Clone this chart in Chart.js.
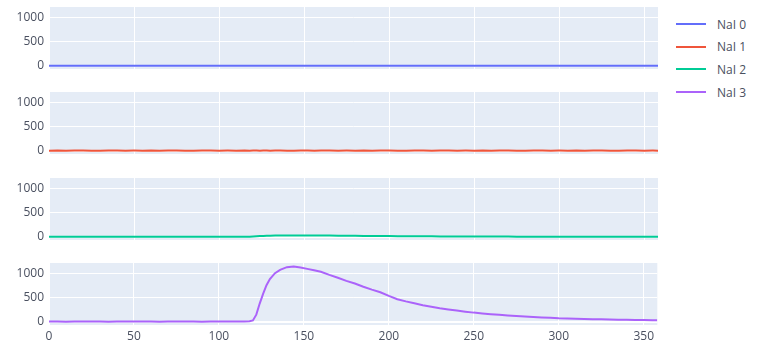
<!DOCTYPE html>
<html>
<head>
<meta charset="utf-8">
<script src="https://cdn.jsdelivr.net/npm/chart.js@4.4.1/dist/chart.umd.min.js"></script>
<style>
  body { margin: 0; background: #fff; }
  #wrap { position: relative; width: 761px; height: 343px; }
  #wrap canvas { position: absolute; left: 0; }
  #legend { position: absolute; left: 676px; top: 13px; font: 12px "Open Sans", sans-serif; color: #4a5060; }
  .item { height: 22.6px; display: flex; align-items: center; }
  .swatch { width: 30px; height: 2px; margin-right: 11px; }
</style>
</head>
<body>
<div id="wrap">
  <canvas id="p0"></canvas>
  <canvas id="p1"></canvas>
  <canvas id="p2"></canvas>
  <canvas id="p3"></canvas>
  <div id="legend"></div>
</div>
<script>
// time axis (s), shared by all four detectors
const times = [
  0, 5, 10, 15, 20, 25, 30, 35, 40, 45, 50, 55, 60, 65, 70, 75, 80, 85, 90, 95, 100, 105, 110, 115,
  118, 120, 122, 124, 126, 128, 130, 133, 136, 140, 144, 148, 152, 156, 160,
  165, 170, 175, 180, 185, 190, 195, 200, 205, 210, 215, 220, 225, 230, 235, 240, 245, 250,
  255, 260, 265, 270, 275, 280, 285, 290, 295, 300, 305, 310, 315, 320, 325, 330, 335, 340, 345, 350, 355,
  358
];

const nai0 = [
  2, 3, 1, 2, 3, 2, 1, 2, 3, 2, 2, 1, 3, 2, 2, 3, 1, 2, 2, 3, 2, 1, 2, 3,
  2, 2, 3, 2, 1, 2, 3, 2, 2, 3, 2, 1, 2, 2, 3,
  2, 1, 2, 3, 2, 2, 1, 2, 3, 2, 2, 1, 2, 3, 2, 2, 3, 1,
  2, 2, 3, 2, 1, 2, 3, 2, 2, 1, 2, 3, 2, 2, 1, 2, 3, 2, 2, 1, 2,
  2
];

const nai1 = [
  5, 7, 4, 6, 8, 5, 4, 6, 7, 5, 6, 4, 7, 5, 6, 8, 5, 4, 6, 7, 5, 6, 4, 7,
  5, 6, 7, 5, 6, 8, 5, 6, 7, 5, 4, 6, 7, 5, 6,
  8, 5, 6, 4, 7, 5, 6, 7, 5, 4, 6, 8, 5, 6, 7, 4, 6, 5,
  7, 5, 6, 8, 5, 4, 6, 7, 5, 6, 4, 7, 5, 6, 8, 5, 4, 7, 6, 5, 6,
  5
];

const nai2 = [
  3, 2, 4, 3, 2, 3, 4, 2, 3, 3, 2, 4, 3, 2, 3, 4, 3, 2, 3, 4, 3, 2, 3, 4,
  5, 8, 12, 16, 20, 23, 25, 27, 28, 29, 30, 30, 29, 28, 27,
  26, 25, 23, 22, 20, 19, 17, 16, 15, 14, 13, 12, 11, 10, 10, 9, 8, 8,
  7, 7, 6, 6, 5, 5, 5, 4, 4, 4, 4, 3, 3, 3, 3, 3, 2, 3, 2, 3, 2,
  2
];

const nai3 = [
  6, 8, 5, 7, 9, 6, 7, 5, 8, 6, 7, 9, 6, 5, 8, 7, 6, 8, 5, 7, 9, 6, 7, 8,
  12, 30, 150, 380, 580, 760, 890, 1010, 1080, 1135, 1150, 1130, 1100, 1070, 1040,
  975, 915, 850, 795, 730, 670, 615, 540, 470, 425, 385, 345, 312, 282, 258, 235, 212, 192,
  176, 160, 146, 132, 121, 111, 101, 93, 84, 74, 68, 63, 59, 55, 52, 48, 45, 42, 40, 37, 35,
  33
];

const names = ['NaI 0', 'NaI 1', 'NaI 2', 'NaI 3'];
const colors = ['#636efa', '#EF553B', '#00cc96', '#ab63fa'];
const series = [nai0, nai1, nai2, nai3];

const xTicks = [0, 50, 100, 150, 200, 250, 300, 350];
const yTicks = [0, 500, 1000];

// panel geometry
const panelTops = [7, 92, 178, 263];
const panelHeight = 62;
const padTop = 14;
const yAxisWidth = 49;
const plotRight = 658;
const textColor = '#4a5060';

// plotly-ish background behind each plot area
const bgPlugin = {
  id: 'plotBg',
  beforeDraw(chart) {
    const a = chart.chartArea;
    const ctx = chart.ctx;
    ctx.save();
    ctx.fillStyle = '#E5ECF6';
    ctx.fillRect(a.left, a.top, a.right - a.left, a.bottom - a.top);
    ctx.restore();
  }
};

function makePanel(i) {
  const last = i === series.length - 1;
  const xAxisHeight = last ? 22 : 0;
  const canvas = document.getElementById('p' + i);
  canvas.width = plotRight;
  canvas.height = padTop + panelHeight + (last ? xAxisHeight : 14);
  canvas.style.top = (panelTops[i] - padTop) + 'px';

  const points = times.map((t, k) => ({ x: t, y: series[i][k] }));

  new Chart(canvas.getContext('2d'), {
    type: 'line',
    data: {
      datasets: [{
        label: names[i],
        data: points,
        borderColor: colors[i],
        borderWidth: 2,
        pointRadius: 0,
        tension: 0,
        fill: false
      }]
    },
    options: {
      responsive: false,
      animation: false,
      events: [],
      layout: {
        autoPadding: false,
        padding: { top: padTop, bottom: last ? 0 : 14, left: 0, right: 0 }
      },
      plugins: { legend: { display: false }, tooltip: { enabled: false } },
      scales: {
        x: {
          type: 'linear',
          min: 0,
          max: 358,
          border: { display: false },
          grid: { color: '#ffffff', lineWidth: 1, drawTicks: false },
          ticks: {
            display: last,
            padding: 4,
            color: textColor,
            font: { family: 'Open Sans', size: 12 },
            callback: v => String(v)
          },
          afterBuildTicks: s => { s.ticks = xTicks.map(v => ({ value: v })); },
          afterFit: s => { s.height = xAxisHeight; }
        },
        y: {
          type: 'linear',
          min: -65,
          max: 1222,
          border: { display: false },
          grid: {
            color: '#ffffff',
            lineWidth: c => (c.tick && c.tick.value === 0 ? 2 : 1),
            drawTicks: false
          },
          ticks: {
            padding: 5,
            color: textColor,
            font: { family: 'Open Sans', size: 12 },
            callback: v => String(v)
          },
          afterBuildTicks: s => { s.ticks = yTicks.map(v => ({ value: v })); },
          afterFit: s => { s.width = yAxisWidth; }
        }
      }
    },
    plugins: [bgPlugin]
  });
}

for (let i = 0; i < series.length; i++) makePanel(i);

// legend on the right
const legend = document.getElementById('legend');
names.forEach((n, i) => {
  const row = document.createElement('div');
  row.className = 'item';
  const sw = document.createElement('span');
  sw.className = 'swatch';
  sw.style.background = colors[i];
  const txt = document.createElement('span');
  txt.textContent = n;
  row.appendChild(sw);
  row.appendChild(txt);
  legend.appendChild(row);
});
</script>
</body>
</html>
